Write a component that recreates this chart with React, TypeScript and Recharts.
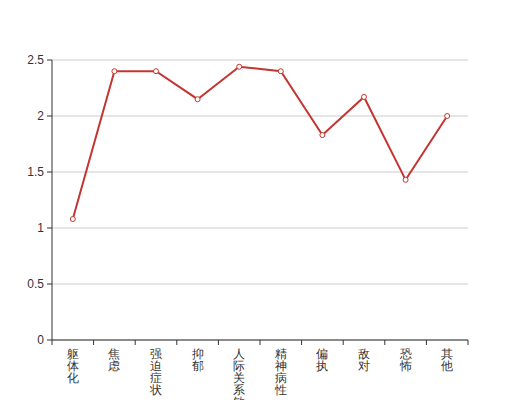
import { LineChart, Line, XAxis, YAxis, CartesianGrid } from "recharts"

const categories = ["躯体化", "焦虑", "强迫症状", "抑郁", "人际关系敏感", "精神病性", "偏执", "敌对", "恐怖", "其他"]
const scores = [1.08, 2.4, 2.4, 2.15, 2.44, 2.4, 1.83, 2.17, 1.43, 2.0]
const yTicks = [0, 0.5, 1, 1.5, 2, 2.5]

const data = categories.map((name, i) => ({ name, v: scores[i] }))

const AXIS = "#333"
const RED = "#c23531"
const FONT = "sans-serif"

function VerticalTick(props: any) {
  const { x, y, payload, index } = props
  const half = payload.offset || 20.8
  const chars = String(payload.value).split("")
  const isLast = index === categories.length - 1
  return (
    <g>
      <line x1={x - half} x2={x - half} y1={y} y2={y + 5} stroke={AXIS} />
      {isLast && <line x1={x + half} x2={x + half} y1={y} y2={y + 5} stroke={AXIS} />}
      <text x={x} y={y + 18} textAnchor="middle" fontSize={12} fill={AXIS} fontFamily={FONT}>
        {chars.map((c, i) => (
          <tspan key={i} x={x} dy={i === 0 ? 0 : 12}>
            {c}
          </tspan>
        ))}
      </text>
    </g>
  )
}

export default function App() {
  return (
    <div style={{ position: "absolute", left: 0, top: 0, width: 520, height: 400, background: "#fff" }}>
      <LineChart width={520} height={400} data={data} margin={{ top: 60, right: 52, bottom: 0, left: 0 }}>
        <CartesianGrid stroke="#ccc" vertical={false} />
        <XAxis
          dataKey="name"
          scale="band"
          height={60}
          interval={0}
          stroke={AXIS}
          tickLine={false}
          tickSize={0}
          tickMargin={0}
          tick={<VerticalTick />}
        />
        <YAxis
          width={52}
          domain={[0, 2.5]}
          ticks={yTicks}
          stroke={AXIS}
          tickSize={5}
          tickMargin={3}
          tick={{ fontSize: 12, fill: AXIS, fontFamily: FONT }}
        />
        <Line
          type="linear"
          dataKey="v"
          stroke={RED}
          strokeWidth={2}
          dot={{ r: 2.5, fill: "#fff", stroke: RED, strokeWidth: 1 }}
          isAnimationActive={false}
        />
      </LineChart>
    </div>
  )
}
